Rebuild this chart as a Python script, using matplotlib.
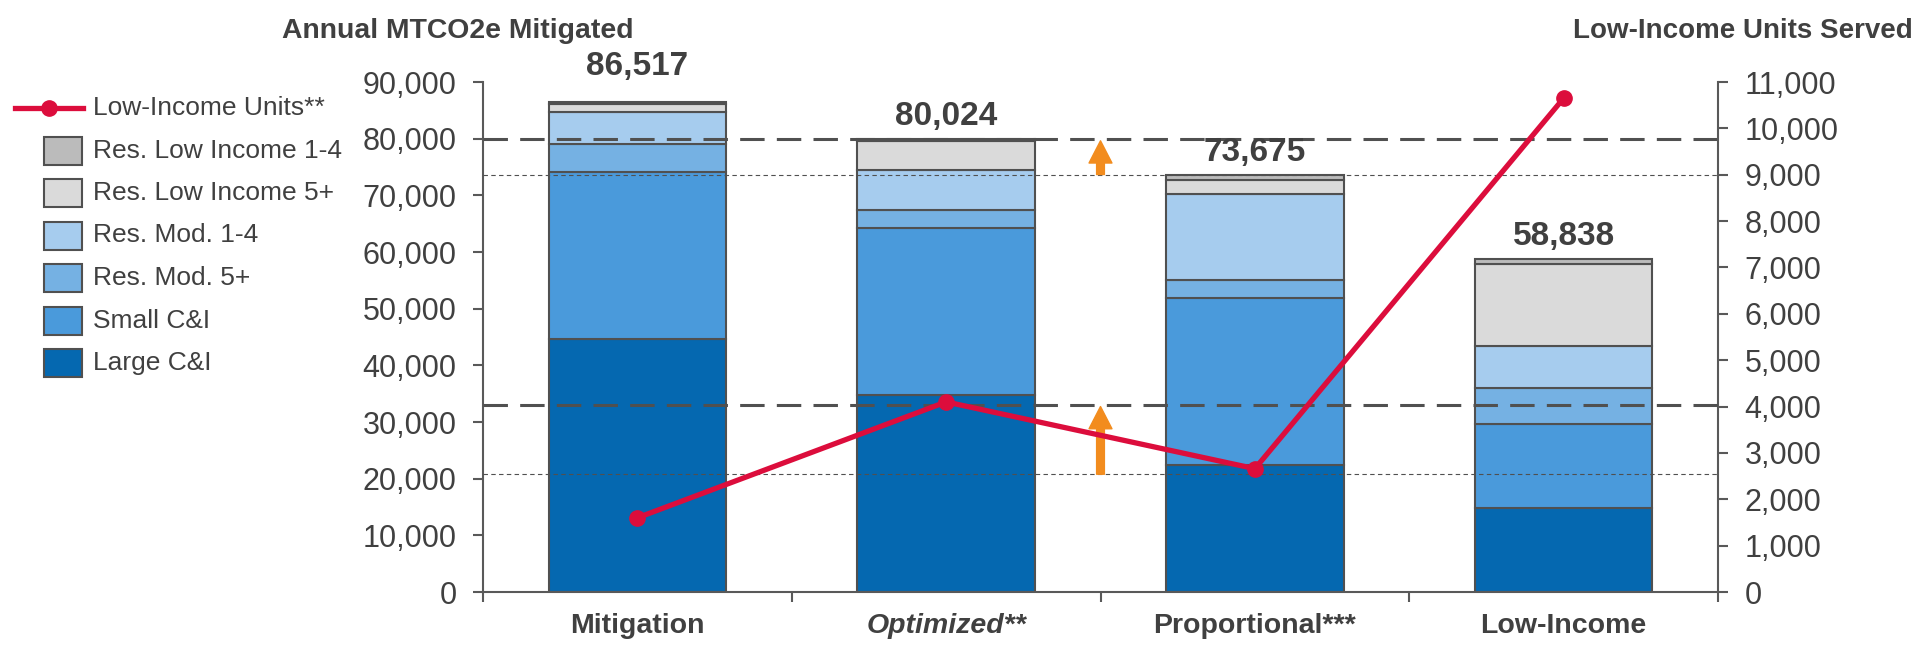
import numpy as np
import matplotlib
matplotlib.use("Agg")
import matplotlib.pyplot as plt
from matplotlib.patches import Rectangle, FancyArrowPatch
from matplotlib.lines import Line2D
from matplotlib.ticker import FuncFormatter

plt.rcParams['font.family'] = ['Liberation Sans', 'DejaVu Sans']

# data
categories = ['Mitigation', 'Optimized**', 'Proportional***', 'Low-Income']
large_ci = [44600, 34800, 22500, 14750]
small_ci = [29500, 29400, 29300, 14900]
res_mod_5 = [4950, 3200, 3250, 6350]
res_mod_14 = [5600, 7050, 15100, 7400]
res_li_5 = [1500, 5200, 2550, 14450]
res_li_14 = [367, 374, 975, 988]
totals = [86517, 80024, 73675, 58838]
li_units = [1600, 4100, 2660, 10650]
ref_mtco2 = [80024, 73675]   # dashed, dotted
ref_units = [4040, 2540]     # dashed, dotted

seg_names = ['Large C&I', 'Small C&I', 'Res. Mod. 5+', 'Res. Mod. 1-4',
             'Res. Low Income 5+', 'Res. Low Income 1-4']
seg_vals = [large_ci, small_ci, res_mod_5, res_mod_14, res_li_5, res_li_14]
seg_colors = ['#0568B0', '#4A9ADB', '#75B1E3', '#A6CCEE', '#DADADA', '#BBBBBB']

EDGE = '#505050'
TXT = '#404040'
RED = '#DC0D3C'
ORANGE = '#F28C1E'

W, H = 1917, 647
fig = plt.figure(figsize=(W / 100, H / 100), dpi=100)
ax = fig.add_axes([483 / W, 1 - 592 / H, (1718 - 483) / W, (592 - 82) / H])
ax2 = ax.twinx()

x = np.arange(len(categories))
bottom = np.zeros(len(categories))
for name, vals, col in zip(seg_names, seg_vals, seg_colors):
    ax.bar(x, vals, 0.575, bottom=bottom, color=col, edgecolor=EDGE,
           linewidth=1.5, zorder=2)
    bottom += np.array(vals)

# the first total label sits a bit higher in the original
label_lift = [19, 10, 10, 10]
for xi, tot, lift in zip(x, totals, label_lift):
    ax.annotate(f'{tot:,}', (xi, tot), xytext=(0, lift), textcoords='offset points',
                ha='center', va='baseline', fontsize=24, fontweight='bold',
                color=TXT, zorder=5)

# reference levels
ax.axhline(ref_mtco2[0], color=EDGE, lw=2.2, ls=(0, (8, 4)), zorder=3)
ax.axhline(ref_mtco2[1], color=EDGE, lw=0.8, ls=(0, (4, 3)), zorder=3)
ax2.axhline(ref_units[0], color=EDGE, lw=2.2, ls=(0, (8, 4)), zorder=3)
ax2.axhline(ref_units[1], color=EDGE, lw=0.8, ls=(0, (4, 3)), zorder=3)

arrow_style = 'simple,head_length=16,head_width=16.5,tail_width=5.6'
ax.add_patch(FancyArrowPatch((1.5, ref_mtco2[1]), (1.5, ref_mtco2[0] - 400),
                             arrowstyle=arrow_style, mutation_scale=1,
                             color=ORANGE, shrinkA=0, shrinkB=0, zorder=4))
ax2.add_patch(FancyArrowPatch((1.5, ref_units[1]), (1.5, ref_units[0] - 40),
                              arrowstyle=arrow_style, mutation_scale=1,
                              color=ORANGE, shrinkA=0, shrinkB=0, zorder=4))

ax2.plot(x, li_units, color=RED, lw=3.8, marker='o', markersize=11, zorder=6)

# axes styling
ax.set_xlim(-0.5, 3.5)
ax.set_ylim(0, 90000)
ax2.set_ylim(0, 11000)
ax.set_yticks(np.arange(0, 90001, 10000))
ax2.set_yticks(np.arange(0, 11001, 1000))
fmt = FuncFormatter(lambda v, p: f'{v:,.0f}')
ax.yaxis.set_major_formatter(fmt)
ax2.yaxis.set_major_formatter(fmt)

for s in ['top', 'right']:
    ax.spines[s].set_visible(False)
for s in ['top', 'left', 'bottom']:
    ax2.spines[s].set_visible(False)
for sp in [ax.spines['left'], ax.spines['bottom'], ax2.spines['right']]:
    sp.set_color('#595959')
    sp.set_linewidth(1.5)

ax.tick_params(axis='y', length=7, width=1.5, color='#595959', pad=12,
               labelsize=22, labelcolor=TXT)
ax2.tick_params(axis='y', length=7, width=1.5, color='#595959', pad=12,
                labelsize=22, labelcolor=TXT)

ax.set_xticks(x)
ax.set_xticklabels(categories)
ax.set_xticks(np.arange(-0.5, 3.6, 1), minor=True)
ax.tick_params(axis='x', which='major', length=0, pad=15, labelsize=20.5,
               labelcolor=TXT)
ax.tick_params(axis='x', which='minor', length=7, width=1.5, color='#595959')
for lab in ax.get_xticklabels():
    lab.set_fontweight('bold')
ax.get_xticklabels()[1].set_fontstyle('italic')

# axis titles
fig.text(282 / W, 1 - 38 / H, 'Annual MTCO2e Mitigated', ha='left', va='baseline',
         fontsize=20.4, fontweight='bold', color=TXT)
fig.text(1913 / W, 1 - 38 / H, 'Low-Income Units Served', ha='right', va='baseline',
         fontsize=20, fontweight='bold', color=TXT)

# legend, drawn by hand to match the box / line sizes
rows = [108, 150.5, 193, 235.5, 278, 320.5, 363]
fig.add_artist(Line2D([15 / W, 83 / W], [1 - rows[0] / H] * 2, color=RED, lw=3.8,
                      transform=fig.transFigure))
fig.add_artist(Line2D([49 / W], [1 - rows[0] / H], color=RED, marker='o',
                      markersize=11, transform=fig.transFigure))
fig.text(93 / W, 1 - rows[0] / H, 'Low-Income Units**', ha='left', va='center',
         fontsize=19, color=TXT)
for r, name, col in zip(rows[1:], seg_names[::-1], seg_colors[::-1]):
    fig.add_artist(Rectangle((44 / W, 1 - (r + 14) / H), 38 / W, 28 / H,
                             facecolor=col, edgecolor=EDGE, lw=1.5,
                             transform=fig.transFigure))
    fig.text(93 / W, 1 - r / H, name, ha='left', va='center', fontsize=19,
             color=TXT)

fig.savefig('out.png', dpi=100)
